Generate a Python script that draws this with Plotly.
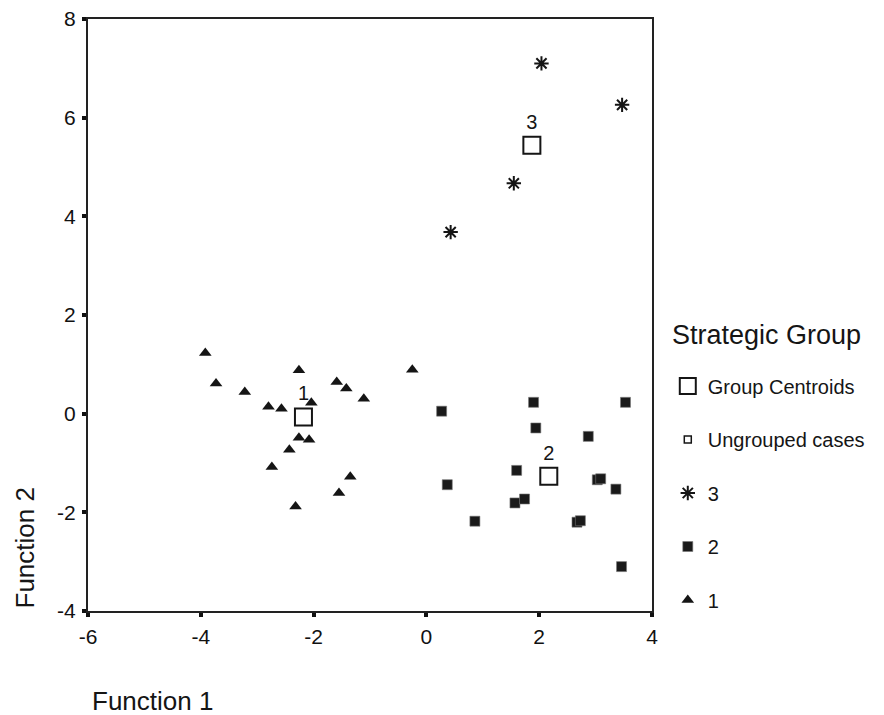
import plotly.graph_objects as go

# Group 1 (triangles)
g1_x = [-3.92, -3.73, -3.22, -2.80, -2.57, -2.26, -2.04, -1.59, -1.42, -1.11,
        -2.26, -2.08, -2.43, -2.74, -1.35, -1.55, -2.32, -0.25]
g1_y = [1.23, 0.61, 0.44, 0.14, 0.10, 0.88, 0.22, 0.64, 0.51, 0.30,
        -0.49, -0.53, -0.73, -1.08, -1.28, -1.61, -1.88, 0.89]
# Group 2 (squares)
g2_x = [0.27, 1.90, 1.94, 1.60, 0.37, 1.57, 1.74, 0.86, 2.67, 2.73,
        3.53, 2.87, 3.03, 3.09, 3.36, 3.46]
g2_y = [0.05, 0.23, -0.29, -1.15, -1.44, -1.81, -1.73, -2.18, -2.20, -2.17,
        0.23, -0.46, -1.34, -1.32, -1.53, -3.10]
# Group 3 (asterisks)
g3_x = [2.04, 1.55, 0.43, 3.47]
g3_y = [7.10, 4.67, 3.68, 6.26]
# Group centroids
cen_x = [-2.18, 2.17, 1.87]
cen_y = [-0.07, -1.27, 5.44]
cen_labels = ["1", "2", "3"]

x_ticks = [-6, -4, -2, 0, 2, 4]
y_ticks = [-4, -2, 0, 2, 4, 6, 8]

FONT = "Liberation Sans, Arial, sans-serif"
INK = "#151515"

fig = go.Figure()
fig.add_trace(go.Scatter(
    x=cen_x, y=cen_y, mode="markers+text", text=cen_labels,
    textposition="top center", textfont=dict(size=20, color=INK, family=FONT),
    marker=dict(symbol="square-open", size=17, color=INK, line=dict(width=2, color=INK)),
    name="Group Centroids", legendgroup="a", cliponaxis=False))
fig.add_trace(go.Scatter(
    x=[None], y=[None], mode="markers",
    marker=dict(symbol="square-open", size=7, color=INK, line=dict(width=1.5, color=INK)),
    name="Ungrouped cases", legendgroup="b"))
fig.add_trace(go.Scatter(
    x=g3_x, y=g3_y, mode="markers",
    marker=dict(symbol="asterisk-open", size=12, color=INK, line=dict(width=2, color=INK)),
    name="3", legendgroup="c"))
fig.add_trace(go.Scatter(
    x=g2_x, y=g2_y, mode="markers",
    marker=dict(symbol="square", size=10, color="#1a1a1a", line=dict(width=0.6, color="#777")),
    name="2", legendgroup="d"))
fig.add_trace(go.Scatter(
    x=g1_x, y=g1_y, mode="markers",
    marker=dict(symbol="triangle-up", size=11, color=INK),
    name="1", legendgroup="e"))

axis_common = dict(
    showgrid=False, zeroline=False, showline=True, linecolor="#222", linewidth=2,
    mirror=True, ticks="outside", ticklen=4, tickwidth=4, tickcolor="#111",
    tickfont=dict(size=21, color="#111", family=FONT),
    automargin=False,
)
fig.update_xaxes(range=[-6, 4], tickvals=x_ticks, ticktext=[str(v) for v in x_ticks],
                 ticklabelstandoff=2, **axis_common)
fig.update_yaxes(range=[-4, 8], tickvals=y_ticks, ticktext=[str(v) for v in y_ticks],
                 ticklabelstandoff=2, **axis_common)

fig.update_layout(
    width=884, height=715,
    margin=dict(l=88, r=232, t=19, b=104),
    paper_bgcolor="white", plot_bgcolor="white",
    font=dict(family=FONT, color=INK),
    legend=dict(
        x=1.028, y=0.413, xanchor="left", yanchor="top",
        font=dict(size=20, color=INK, family=FONT),
        tracegroupgap=24.5, itemwidth=30, bgcolor="rgba(0,0,0,0)",
    ),
    annotations=[
        dict(text="Strategic Group", x=(670 - 88) / 564, y=(611 - 335) / 592,
             xref="paper", yref="paper", showarrow=False, xanchor="left", yanchor="middle",
             font=dict(size=27, color=INK, family=FONT)),
        dict(text="Function 2", x=(24 - 88) / 564, y=0.0, xref="paper", yref="paper",
             textangle=-90, showarrow=False, xanchor="center", yanchor="bottom",
             font=dict(size=26, color=INK, family=FONT)),
        dict(text="Function 1", x=(90 - 88) / 564, y=(611 - 701) / 592, xref="paper", yref="paper",
             showarrow=False, xanchor="left", yanchor="middle",
             font=dict(size=26, color=INK, family=FONT)),
    ],
)

fig.write_html("out.html")
